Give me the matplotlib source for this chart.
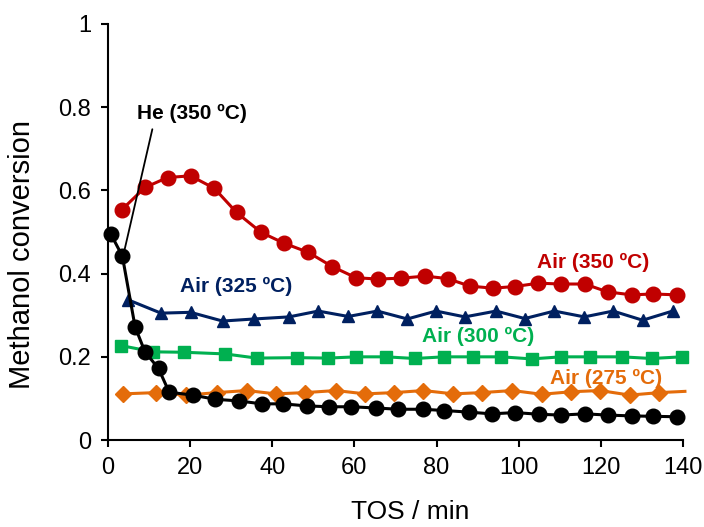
import matplotlib.pyplot as plt

plt.rcParams['font.family'] = ['Liberation Sans', 'DejaVu Sans']

# Air (350 oC)
x_350 = [3.3, 9.0, 14.5, 20.1, 25.9, 31.3, 37.3, 42.9, 48.8, 54.6, 60.4, 65.8, 71.3,
         77.3, 82.7, 88.1, 93.7, 99.1, 104.8, 110.3, 116.1, 121.7, 127.5, 132.8, 138.5]
y_350 = [0.553, 0.607, 0.631, 0.635, 0.605, 0.547, 0.499, 0.473, 0.451, 0.417, 0.390,
         0.387, 0.389, 0.394, 0.388, 0.370, 0.365, 0.369, 0.377, 0.375, 0.375, 0.356,
         0.349, 0.351, 0.349]

# Air (325 oC)
x_325 = [4.9, 12.9, 20.1, 27.9, 35.6, 44.1, 51.2, 58.5, 65.6, 72.9, 79.9, 86.9, 94.5,
         101.5, 108.7, 116.0, 123.0, 130.2, 137.5]
y_325 = [0.337, 0.305, 0.307, 0.286, 0.291, 0.296, 0.310, 0.297, 0.310, 0.291, 0.310,
         0.296, 0.310, 0.292, 0.310, 0.296, 0.310, 0.288, 0.310]

# Air (300 oC)
x_300 = [3.2, 11.0, 18.5, 28.5, 36.2, 46.1, 53.6, 60.5, 67.7, 74.7, 81.8, 88.8, 95.8,
         103.2, 110.3, 117.4, 125.1, 132.4, 139.7]
y_300 = [0.227, 0.212, 0.211, 0.207, 0.197, 0.198, 0.197, 0.200, 0.200, 0.196, 0.200,
         0.200, 0.200, 0.195, 0.200, 0.200, 0.200, 0.196, 0.200]

# Air (275 oC)
x_275 = [3.7, 11.7, 19.0, 26.5, 33.8, 40.8, 48.0, 55.5, 62.6, 69.7, 76.8, 84.1, 91.0,
         98.5, 105.6, 112.7, 119.8, 127.1, 134.2, 140.5]
y_275 = [0.111, 0.114, 0.108, 0.114, 0.119, 0.111, 0.114, 0.119, 0.111, 0.114, 0.119,
         0.111, 0.114, 0.119, 0.110, 0.116, 0.119, 0.108, 0.114, 0.117]

# He (350 oC)
x_he = [0.7, 3.5, 6.6, 9.0, 12.3, 14.9, 20.6, 26.1, 31.9, 37.4, 42.7, 48.4, 53.9, 59.3,
        65.3, 70.7, 76.6, 81.9, 88.0, 93.4, 99.2, 104.9, 110.3, 116.1, 121.7, 127.5,
        132.8, 138.5]
y_he = [0.495, 0.442, 0.272, 0.212, 0.172, 0.115, 0.108, 0.098, 0.094, 0.087, 0.087,
        0.082, 0.080, 0.080, 0.077, 0.074, 0.074, 0.071, 0.067, 0.063, 0.066, 0.062,
        0.060, 0.063, 0.060, 0.058, 0.057, 0.056]

c_red = '#C00000'
c_blue = '#002060'
c_green = '#00B050'
c_orange = '#E46C0A'

fig = plt.figure(figsize=(7.04, 5.27), dpi=100)
ax = fig.add_axes([0.1534, 0.165, 0.8166, 0.7895])

ax.plot(x_275, y_275, color=c_orange, lw=2.2, marker='D', ms=8.5,
        markevery=list(range(len(x_275) - 1)))
ax.plot(x_300, y_300, color=c_green, lw=2.2, marker='s', ms=8)
ax.plot(x_325, y_325, color=c_blue, lw=2.2, marker='^', ms=9)
ax.plot(x_350, y_350, color=c_red, lw=2.2, marker='o', ms=10.5)
ax.plot(x_he, y_he, color='black', lw=2.2, marker='o', ms=10.5)

# leader line for the He label
ax.annotate('', xy=(3.7, 0.443), xytext=(10.8, 0.747),
            arrowprops=dict(arrowstyle='-', color='black', lw=1.3, shrinkA=0, shrinkB=0))
ax.text(20.4, 0.786, 'He (350 ºC)', ha='center', va='center', fontsize=15,
        fontweight='bold', color='black')
ax.text(31.2, 0.368, 'Air (325 ºC)', ha='center', va='center', fontsize=15,
        fontweight='bold', color=c_blue)
ax.text(118.1, 0.428, 'Air (350 ºC)', ha='center', va='center', fontsize=15,
        fontweight='bold', color=c_red)
ax.text(90.1, 0.248, 'Air (300 ºC)', ha='center', va='center', fontsize=15,
        fontweight='bold', color=c_green)
ax.text(121.3, 0.149, 'Air (275 ºC)', ha='center', va='center', fontsize=15,
        fontweight='bold', color=c_orange)

ax.set_xlim(0, 140)
ax.set_ylim(0, 1)
ax.set_xticks(range(0, 141, 20))
ax.set_yticks([0, 0.2, 0.4, 0.6, 0.8, 1])
ax.set_yticklabels(['0', '0.2', '0.4', '0.6', '0.8', '1'])
ax.spines['top'].set_visible(False)
ax.spines['right'].set_visible(False)
for s in ['left', 'bottom']:
    ax.spines[s].set_linewidth(1.5)
ax.tick_params(direction='out', length=5, width=1.5, labelsize=17, colors='black',
               pad=7)
ax.set_xlabel('TOS / min', fontsize=19, va='baseline')
ax.xaxis.set_label_coords(0.525, -0.19)
ax.set_ylabel('Methanol conversion', fontsize=21, va='center')
ax.yaxis.set_label_coords(-0.150, 0.445)
for c in ax.lines:
    c.set_clip_on(False)

fig.savefig('out.png', dpi=100)
